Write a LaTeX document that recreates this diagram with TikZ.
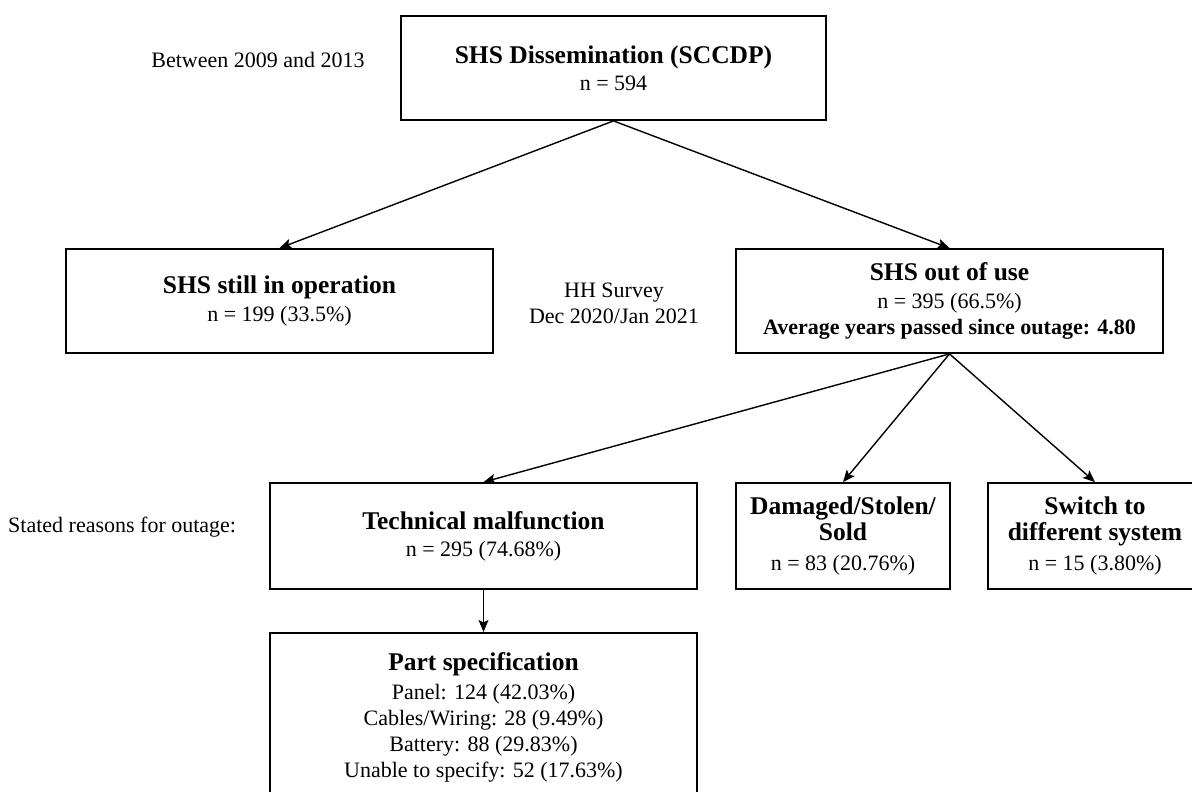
\documentclass[tikz,border=0pt]{standalone}
\usepackage{fontspec}
\setmainfont{Liberation Serif}
\usetikzlibrary{arrows.meta}

% font sizes for box headings and body lines
\newcommand{\hdfont}{\fontsize{25.5}{29}\selectfont\bfseries}
\newcommand{\bdfont}{\fontsize{22}{26}\selectfont}

\begin{document}
\begin{tikzpicture}[x=1pt, y=-1pt,
    box/.style={draw, line width=1.8pt, align=center, inner sep=0pt, font=\bdfont},
    note/.style={align=center, inner sep=0pt, font=\bdfont},
    arr/.style={line width=1.4pt, -{Stealth[length=12pt, width=10pt, inset=2.5pt]}}]

\clip (0,0) rectangle (1192,792);
\fill[white] (0,0) rectangle (1192,792);

% first level: dissemination
\node[box, minimum width=425, minimum height=104] (dissem) at (613.5,68)
  {{\hdfont SHS Dissemination (SCCDP)}\\[1pt] n = 594};
\node[note] (period) at (258,60) {Between 2009 and 2013};

% second level: survey outcome
\node[box, minimum width=427, minimum height=104] (oper) at (279.5,301)
  {{\hdfont SHS still in operation}\\[2pt] n = 199 (33.5\%)};
\node[box, minimum width=427, minimum height=104] (outuse) at (949.5,301)
  {{\hdfont SHS out of use}\\[2pt] n = 395 (66.5\%)\\ \textbf{Average years passed since outage: 4.80}};
\node[note] (survey) at (614,303) {HH Survey\\ Dec 2020/Jan 2021};

% third level: reasons for outage
\node[note, anchor=west] (reasons) at (8,527) {Stated reasons for outage:};
\node[box, minimum width=427, minimum height=106] (tech) at (483.5,536)
  {{\hdfont Technical malfunction}\\[1pt] n = 295 (74.68\%)};
\node[box, minimum width=214, minimum height=106] (damage) at (843,536)
  {{\hdfont Damaged/Stolen/}\\ {\hdfont Sold}\\[4pt] n = 83 (20.76\%)};
\node[box, minimum width=214, minimum height=106] (switch) at (1095,536)
  {{\hdfont Switch to}\\ {\hdfont different system}\\[4pt] n = 15 (3.80\%)};

% fourth level: failed part
\node[box, anchor=north, minimum width=427, minimum height=168] (part) at (483.5,632)
  {{\hdfont Part specification}\\[3pt]
   Panel: 124 (42.03\%)\\
   Cables/Wiring: 28 (9.49\%)\\
   Battery: 88 (29.83\%)\\
   Unable to specify: 52 (17.63\%)};

% connectors
\draw[arr] (dissem.south) -- (oper.north);
\draw[arr] (dissem.south) -- (outuse.north);
\draw[arr] (outuse.south) -- (tech.north);
\draw[arr] (outuse.south) -- (damage.north);
\draw[arr] (outuse.south) -- (switch.north);
\draw[arr] (tech.south) -- (part.north);
\end{tikzpicture}
\end{document}
